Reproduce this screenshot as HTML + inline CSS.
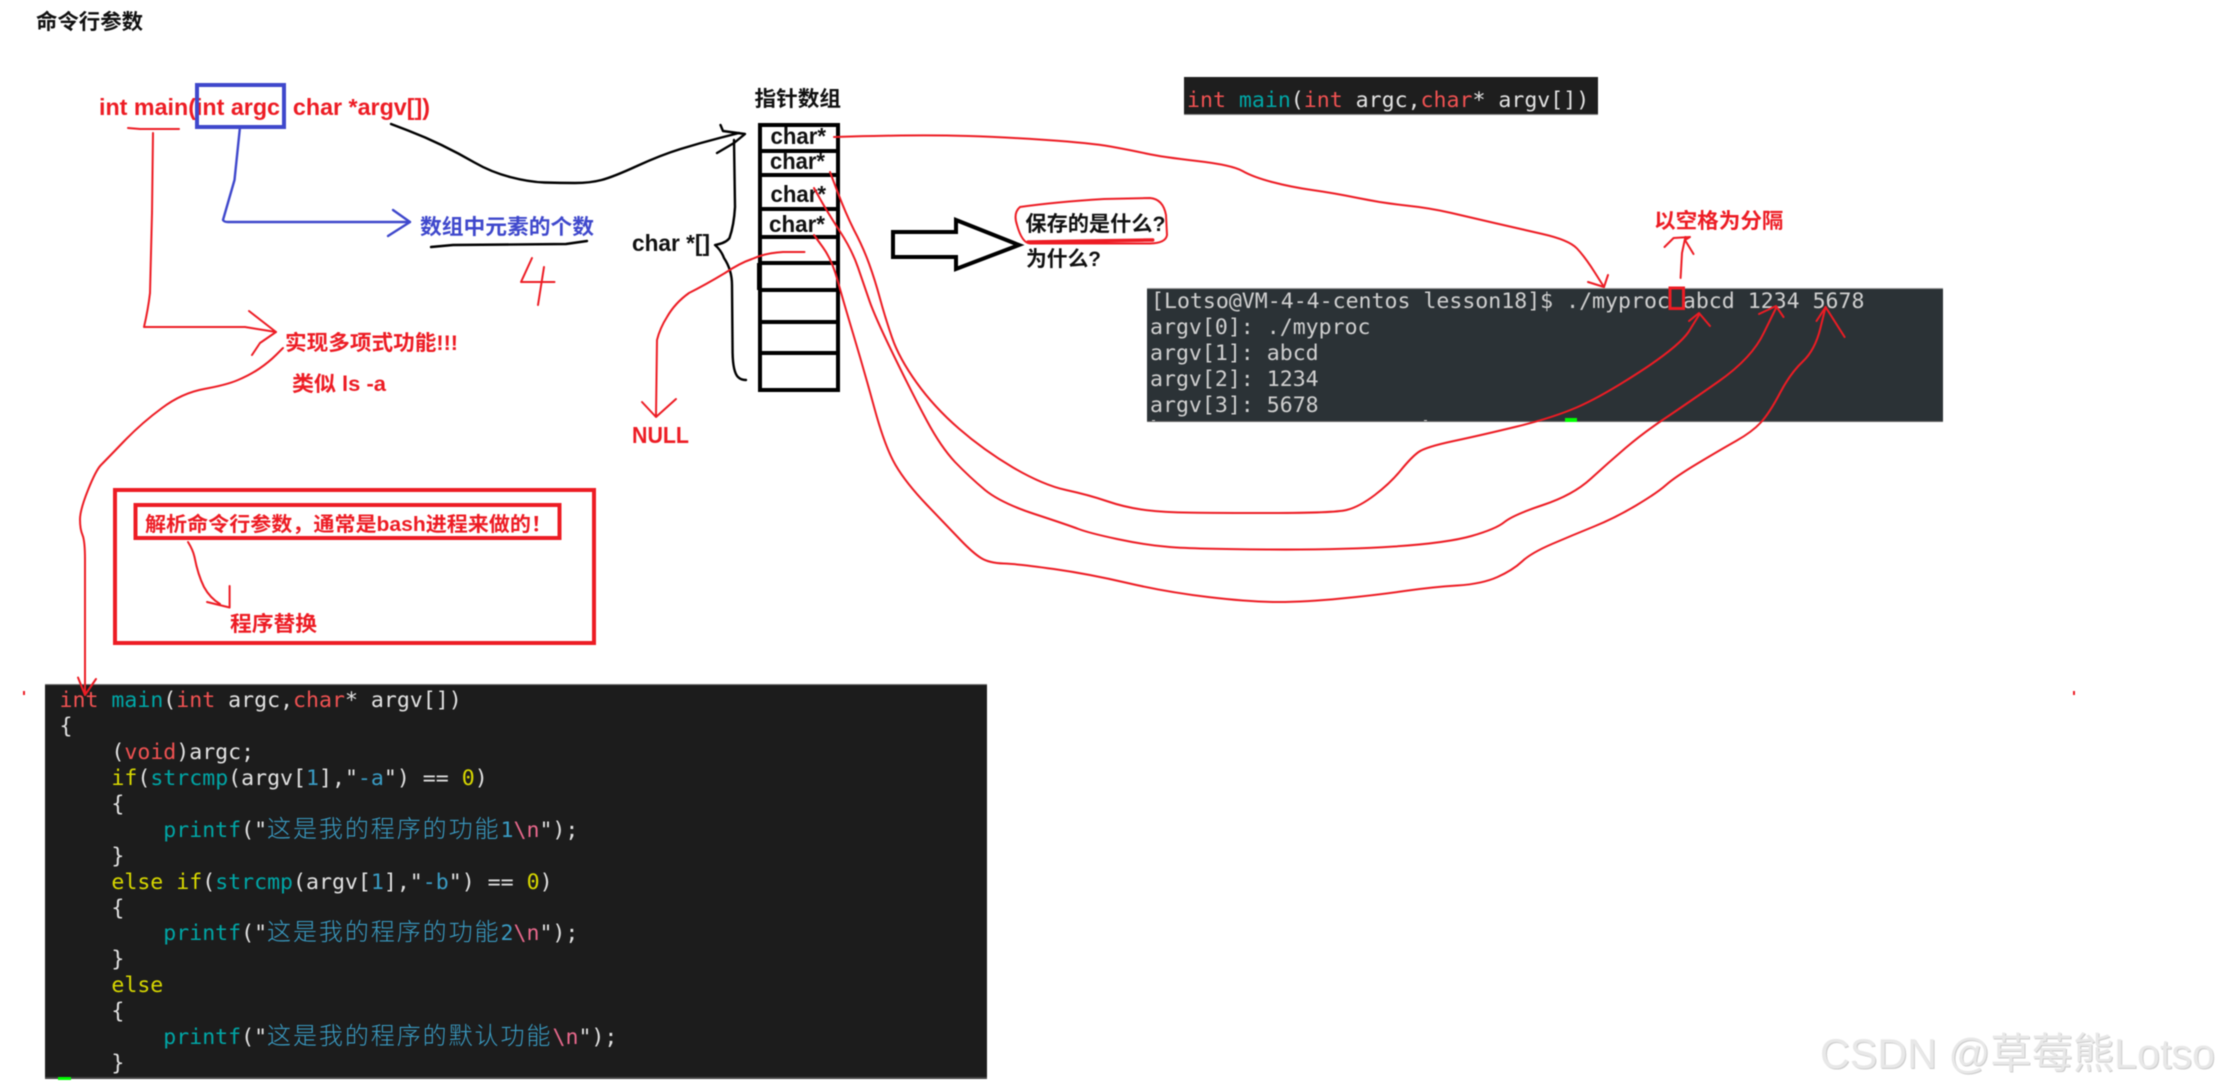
<!DOCTYPE html>
<html lang="zh">
<head>
<meta charset="utf-8">
<title>命令行参数</title>
<style>
html,body{margin:0;padding:0;background:#fff;width:2220px;height:1090px;overflow:hidden}
svg{display:block;filter:blur(.45px)}
.b{font-family:"Liberation Sans","Noto Sans CJK SC",sans-serif;font-weight:700;font-size:21px}
.n{font-size:23.5px}
.r{fill:#ed1c24}
.k{fill:#111}
.m{font-family:"DejaVu Sans Mono","Noto Sans CJK SC",monospace;font-size:21.55px;fill:#e2e2e2}
.t{font-family:"DejaVu Sans Mono",monospace;font-size:21.55px;fill:#d0d0d0}
.cj{font-family:"Noto Sans CJK SC",sans-serif;font-size:24px;letter-spacing:1.94px;fill:#3a9cc4;font-weight:300}
.kw{fill:#f05252}.fn{fill:#00a6a6}.yl{fill:#d8d800}.st{fill:#3a9cc4}.es{fill:#e8688c}
.rl{fill:none;stroke:#ed1c24;stroke-width:2;stroke-linejoin:round;stroke-linecap:round}
.kl{fill:none;stroke:#000;stroke-width:2.4;stroke-linejoin:round;stroke-linecap:round}
.bl{fill:none;stroke:#3f48cc;stroke-width:2.4;stroke-linejoin:round;stroke-linecap:round}
</style>
</head>
<body>
<svg width="2220" height="1090" viewBox="0 0 2220 1090" xmlns="http://www.w3.org/2000/svg">
<rect width="2220" height="1090" fill="#fff"/>

<!-- title -->
<text class="b k" x="36" y="29" textLength="107" lengthAdjust="spacingAndGlyphs">命令行参数</text>

<!-- main signature -->
<text class="b r n" x="99" y="115" textLength="331" lengthAdjust="spacingAndGlyphs" xml:space="preserve">int main(int argc  char *argv[])</text>
<rect x="197" y="85" width="87" height="42" fill="none" stroke="#3f48cc" stroke-width="4"/>
<polyline class="rl" points="128,128 140,129 179,129"/>
<path class="rl" d="M153 133 L152 213 Q151 260 150 293 Q148 310 144 327 L245 327 L276 332"/>
<polyline class="rl" points="249,311 276,332 260,343 252,355"/>

<!-- blue arrow -->
<path class="bl" d="M240 127 L234.5 180 L223 220 Q224 222 228 222 L410 222"/>
<polyline class="bl" points="393,210 410,222 388,236"/>
<text class="b" fill="#3f48cc" x="420" y="234" textLength="174" lengthAdjust="spacingAndGlyphs">数组中元素的个数</text>
<polyline class="kl" points="431,247 453,245 566,244 587,241"/>
<polyline class="rl" points="532,258 521,282 554.5,282"/>
<polyline class="rl" points="544,267 538,305"/>

<!-- feature label -->
<text class="b r" x="285" y="350" textLength="173" lengthAdjust="spacingAndGlyphs">实现多项式功能!!!</text>
<text class="b r" x="292" y="391" textLength="94" lengthAdjust="spacingAndGlyphs">类似 ls -a</text>

<!-- black curve to the array -->
<path class="kl" d="M391 124 L408 130.5 Q425 137 441.5 145 Q458 153 474.5 162.5 Q491 172 510 177 Q529 182 544.5 182.5 Q560 183 575 183 Q590 183 601.5 180 Q613 177 637 166 Q661 155 680.5 149 Q700 143 719.5 138 L739 133"/>
<polyline class="kl" points="720.5,125 723,131 745,134 734,143 717,153"/>
<!-- brace -->
<path class="kl" d="M734 140 L735 207 Q734 225 729.5 238 Q726 243 715 245 Q721 250 724 258 Q732 270 732 285 L732.6 353 Q733 372 738 377 Q741 380 746 380"/>
<text class="b k n" x="632" y="251" textLength="78" lengthAdjust="spacingAndGlyphs">char *[]</text>

<!-- pointer array -->
<text class="b k" x="754.5" y="106" textLength="86.5" lengthAdjust="spacingAndGlyphs">指针数组</text>
<g fill="none" stroke="#000" stroke-width="4">
  <rect x="760" y="125" width="78" height="265"/>
  <path d="M760 151H838M760 175H836M760 209H836M760 237H836M760 263H836M760 290H836M760 322H836M760 353H836"/>
  <path d="M759 263V290"/>
</g>
<text class="b k n" x="770.5" y="144" textLength="55.5" lengthAdjust="spacingAndGlyphs">char*</text>
<text class="b k n" x="770" y="169" textLength="55" lengthAdjust="spacingAndGlyphs">char*</text>
<text class="b k n" x="770.5" y="202" textLength="55.5" lengthAdjust="spacingAndGlyphs">char*</text>
<text class="b k n" x="769" y="232" textLength="56" lengthAdjust="spacingAndGlyphs">char*</text>

<!-- NULL -->
<path class="rl" d="M804.5 252 L783 252 Q765 253 752 259 Q740 263 725 273 Q705 285 689 293 Q675 303 667 317 Q660 328 657 340 L656 416"/>
<polyline class="rl" points="642,402 656,417 676,399"/>
<text class="b r n" x="632" y="443" textLength="57" lengthAdjust="spacingAndGlyphs">NULL</text>

<!-- hollow arrow -->
<polygon points="893,232 956,232 956,220 1019,245 956,269 956,257 893,257" fill="#fff" stroke="#000" stroke-width="4" stroke-linejoin="miter"/>

<!-- question -->
<text class="b k" x="1025.4" y="231" textLength="140" lengthAdjust="spacingAndGlyphs">保存的是什么?</text>
<text class="b k" x="1026" y="266" textLength="75" lengthAdjust="spacingAndGlyphs">为什么?</text>
<path class="rl" d="M1020 207 Q1055 202 1104 199 L1150 198 Q1163 199 1166 215 L1167 235 Q1166 243 1150 243.5 L1030 243.5 Q1022 243 1017 225 Q1013 213 1020 207 Z"/>
<polyline class="rl" style="stroke-width:3.5" points="1028,242 1152.7,240"/>

<!-- top code bar -->
<rect x="1184" y="77" width="414" height="38" fill="#1e1e1e"/>
<rect x="1184" y="114" width="414" height="1" fill="#888"/>
<text class="m" x="1187" y="107"><tspan class="kw">int</tspan> <tspan class="fn">main</tspan>(<tspan class="kw">int</tspan> argc,<tspan class="kw">char</tspan>* argv[])</text>

<!-- terminal -->
<rect x="1147" y="288" width="796" height="134" fill="#2b3236"/>
<rect x="1147" y="288" width="796" height="1" fill="#999"/>
<rect x="1147" y="421" width="796" height="1" fill="#666"/>
<text class="t" x="1151" y="308">[Lotso@VM-4-4-centos lesson18]$ ./myproc abcd 1234 5678</text>
<text class="t" x="1150" y="334">argv[0]: ./myproc</text>
<text class="t" x="1150" y="360">argv[1]: abcd</text>
<text class="t" x="1150" y="386">argv[2]: 1234</text>
<text class="t" x="1150" y="412">argv[3]: 5678</text>
<rect x="1565" y="418" width="12" height="4" fill="#0f0"/>
<rect x="1152" y="420" width="3" height="1" fill="#ccc"/>
<rect x="1424" y="420" width="3" height="1" fill="#ccc"/>

<rect x="1670" y="288" width="13.5" height="20.5" fill="none" stroke="#ed1c24" stroke-width="3"/>
<text class="b r" x="1654" y="228" textLength="129.5" lengthAdjust="spacingAndGlyphs">以空格为分隔</text>
<polyline class="rl" points="1680.6,278 1682,253 1685.4,237"/>
<polyline class="rl" points="1664.5,247 1673.6,238 1690,237 1685,240 1693.5,254"/>

<!-- bottom red boxes -->
<rect x="115" y="490" width="479" height="153" fill="none" stroke="#ed1c24" stroke-width="4"/>
<rect x="135.5" y="505" width="424" height="33" fill="none" stroke="#ed1c24" stroke-width="4"/>
<text class="b r" style="font-size:20px" x="145" y="531" textLength="407" lengthAdjust="spacingAndGlyphs">解析命令行参数，通常是bash进程来做的！</text>
<text class="b r" x="230" y="631" textLength="87" lengthAdjust="spacingAndGlyphs">程序替换</text>
<path class="rl" d="M188 542 Q193 550 194.5 557 Q198 575 204 587 Q210 598 220 604"/>
<polyline class="rl" points="207,602 229.6,607.5 229.6,586"/>

<!-- specks -->
<rect x="23" y="691" width="2" height="4" fill="#ed1c24"/>
<rect x="2073" y="691" width="2" height="4" fill="#ed1c24"/>

<!-- code block -->
<rect x="45" y="684" width="942" height="395" fill="#1c1c1c"/>
<rect x="45" y="684" width="942" height="1" fill="#777"/>
<rect x="45" y="1077" width="942" height="2" fill="#444"/>
<rect x="58" y="1077" width="13" height="3" fill="#0f0"/>

<text class="m" x="59.5" y="707"><tspan class="kw">int</tspan> <tspan class="fn">main</tspan>(<tspan class="kw">int</tspan> argc,<tspan class="kw">char</tspan>* argv[])</text>
<text class="m" x="59.5" y="733">{</text>
<text class="m" x="111.4" y="759">(<tspan class="kw">void</tspan>)argc;</text>
<text class="m" x="111.4" y="785"><tspan class="yl">if</tspan>(<tspan class="fn">strcmp</tspan>(argv[<tspan class="st">1</tspan>],"<tspan class="st">-a</tspan>") == <tspan class="yl">0</tspan>)</text>
<text class="m" x="111.4" y="811">{</text>
<text class="m" x="163.3" y="837"><tspan class="fn">printf</tspan>("</text>
<text class="cj" x="267" y="837">这是我的程序的功能</text>
<text class="m" x="500.5" y="837"><tspan class="st">1</tspan><tspan class="es">\n</tspan>");</text>
<text class="m" x="111.4" y="863">}</text>
<text class="m" x="111.4" y="889"><tspan class="yl">else if</tspan>(<tspan class="fn">strcmp</tspan>(argv[<tspan class="st">1</tspan>],"<tspan class="st">-b</tspan>") == <tspan class="yl">0</tspan>)</text>
<text class="m" x="111.4" y="915">{</text>
<text class="m" x="163.3" y="940"><tspan class="fn">printf</tspan>("</text>
<text class="cj" x="267" y="940">这是我的程序的功能</text>
<text class="m" x="500.5" y="940"><tspan class="st">2</tspan><tspan class="es">\n</tspan>");</text>
<text class="m" x="111.4" y="966">}</text>
<text class="m" x="111.4" y="992"><tspan class="yl">else</tspan></text>
<text class="m" x="111.4" y="1018">{</text>
<text class="m" x="163.3" y="1044"><tspan class="fn">printf</tspan>("</text>
<text class="cj" x="267" y="1044">这是我的程序的默认功能</text>
<text class="m" x="552.5" y="1044"><tspan class="es">\n</tspan>");</text>
<text class="m" x="111.4" y="1070">}</text>

<!-- red curve into code block -->
<path class="rl" d="M283 348 L276 355 Q269 362 259.5 368.5 Q250 375 238 380 Q226.5 385 204 389 Q182 393 162 408 Q141.6 423 123.8 441.5 Q106 460 101 465 Q96 470 88 490 Q80 510 80 519.5 Q80 529 82.5 535 Q85 541 85 560 L85 695"/>
<polyline class="rl" points="78,677.5 85,695 96,679"/>

<!-- red line: row 1 to ./myproc -->
<path class="rl" d="M834 137 L851 136.5 Q868 136 901.5 135.5 Q935 135 968.5 136 Q1002 137 1046.5 140 Q1091 143 1110.5 146.5 Q1130 150 1146 153.5 Q1162 157 1197 161 Q1232 165 1242.5 171 Q1253 177 1272 182 Q1291 187 1312 190 Q1333.5 193 1358 198 Q1382 203 1406 205.5 Q1430 208 1451.5 213 Q1473 218 1494.5 223 Q1516 228 1542.5 234 Q1569 240 1577 248.5 Q1585 257 1594.5 272 L1604 287"/>
<polyline class="rl" points="1588,282 1604,287 1608,275"/>

<!-- curve A -->
<path class="rl" d="M830 172 L837.8 192.5 Q845.5 213 854 230 Q863 247 869 263.5 Q875 280 880 298.5 Q885 317 892 337.5 Q899 358 916.5 382.5 Q934 407 958.8 428.5 Q983.5 450 1013 467.5 Q1043 485 1066 490 Q1089 495 1106.5 501 Q1124 507 1141.5 509.5 Q1159 512 1183.5 512.5 Q1208 513 1271 513 Q1334 513 1346.5 510 Q1359 507 1374.8 495 Q1390.5 483 1401 470 Q1411.6 457 1418.6 452 Q1425.6 447 1453.8 441 Q1482 435 1517 426.5 Q1552 418 1576.5 407.5 Q1601 397 1639.5 372 Q1678 347 1688.5 332 L1699 315"/>
<polyline class="rl" points="1689,321 1699,313 1710,326"/>

<!-- curve B -->
<path class="rl" d="M814 188 L821 200.5 Q828 213 840 231.5 Q852 250 858 267.5 Q864 285 869.5 301 Q875 317 894 356 Q913 395 927 421 Q941 447 955 462 Q969.5 477 985 490 Q1001 503 1034.5 514 Q1068 525 1078.5 529 Q1089 533 1117 539 Q1145 545 1169.5 547 Q1194 549 1267.5 549.5 Q1341 550 1394 546.5 Q1447 543 1471.5 536 Q1496 529 1504.5 522 Q1513 515 1543 505 Q1573 495 1590.5 479 Q1608 463 1625.5 448 Q1643 433 1664 419 Q1685 405 1718.5 381.5 Q1752 358 1764 332.5 L1776.5 307"/>
<polyline class="rl" points="1759,314 1776,306 1783.5,317"/>

<!-- curve C -->
<path class="rl" d="M814 235 L823 247.5 Q832 260 837.5 280 Q843 300 853.5 335 Q864 370 874.5 408.5 Q885 447 895.5 465 Q906 483 927 505 Q948 527 960.5 540 Q973 553 981 558 Q989 563 1003.8 563.5 Q1018.6 564 1053.8 569 Q1089 574 1127.5 583 Q1166 592 1208 597 Q1250 602 1278 602 Q1306 602 1341 598.5 Q1376.5 595 1404.5 591 Q1432.6 587 1457.3 585.5 Q1482 584 1497.5 577 Q1513 570 1522 561.5 Q1531 553 1552 544 Q1573 535 1594 526.5 Q1615 518 1636 505.5 Q1657 493 1666 485 Q1675 477 1697.5 463.5 Q1720 450 1736 441 Q1752 432 1760.8 422.5 Q1769.5 413 1780 393 Q1790.5 373 1802.8 361.5 Q1815 350 1820.3 328.5 L1825.6 307"/>
<polyline class="rl" points="1816.5,321 1825.6,307 1844.6,337"/>

<!-- watermark -->
<text x="1821" y="1069" font-family="'Liberation Sans','Noto Sans CJK SC',sans-serif" font-size="42" fill="#cccccc" textLength="395" lengthAdjust="spacingAndGlyphs">CSDN @草莓熊Lotso</text>
<text x="1820" y="1068" font-family="'Liberation Sans','Noto Sans CJK SC',sans-serif" font-size="42" fill="#e8e8e8" textLength="395" lengthAdjust="spacingAndGlyphs">CSDN @草莓熊Lotso</text>
</svg>
</body>
</html>
